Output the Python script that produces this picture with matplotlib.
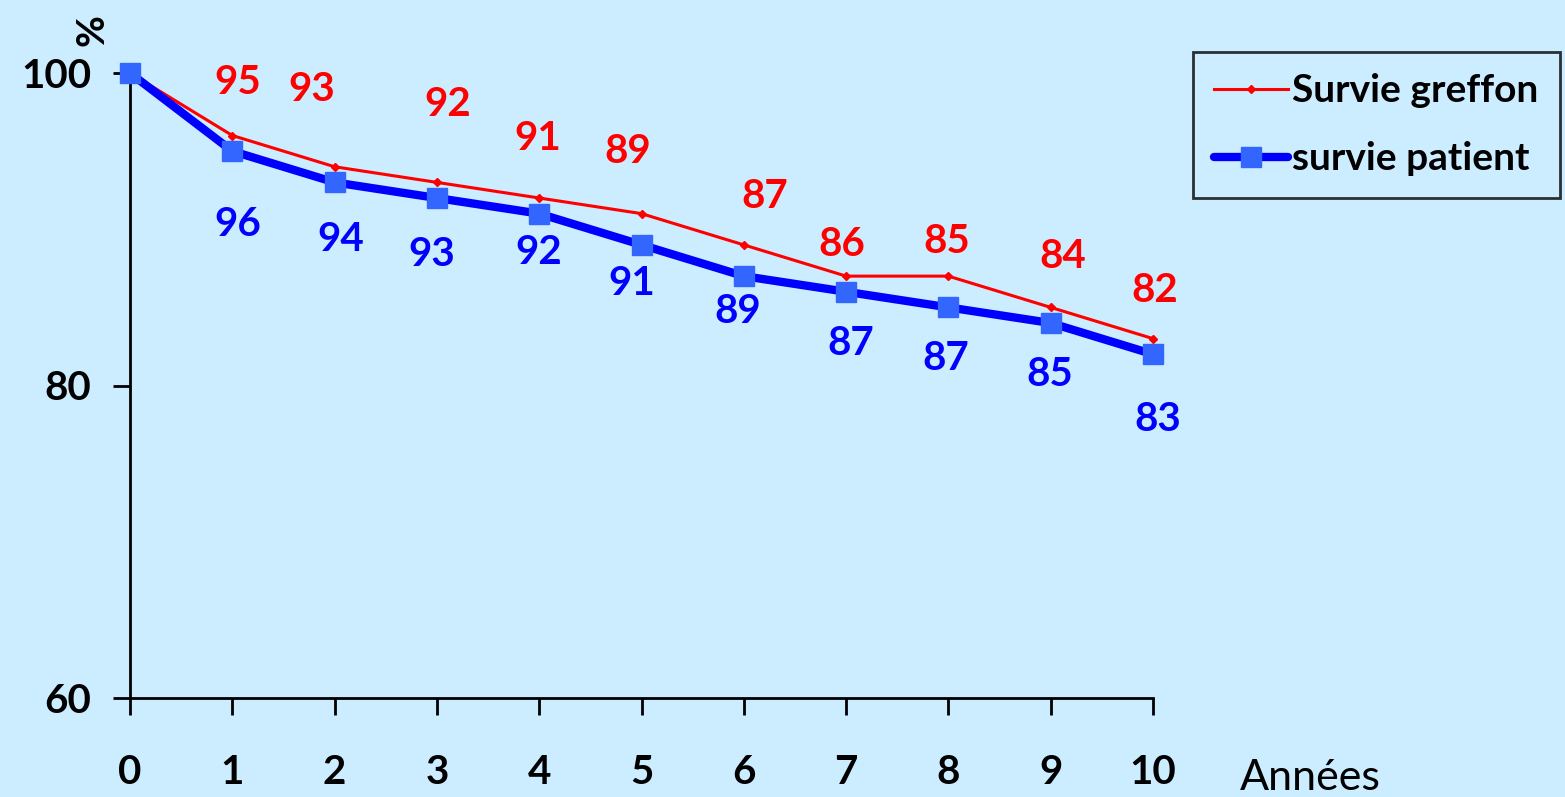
import matplotlib.pyplot as plt

# Données
annees = [0, 1, 2, 3, 4, 5, 6, 7, 8, 9, 10]
survie_greffon = [100, 96, 94, 93, 92, 91, 89, 87, 87, 85, 83]
survie_patient = [100, 95, 93, 92, 91, 89, 87, 86, 85, 84, 82]

# Étiquettes affichées (telles que sur l'original)
etiq_rouges = ['95', '93', '92', '91', '89', '87', '86', '85', '84', '82']
etiq_bleues = ['96', '94', '93', '92', '91', '89', '87', '87', '85', '83']

# décalages des étiquettes (pixels) par rapport aux points
dec_rouges = [(5, 53), (-23, 77), (11, 78), (-1, 60), (-14, 62), (21, 48), (-4, 32), (-2, 35), (12, 51), (2, 48)]
dec_bleues = [(6, -73), (6, -57), (-5, -57), (0, -39), (-10, -39), (-6, -35), (5, -52), (-3, -51), (-1, -51), (5, -65)]

fond = '#CCECFF'
plt.rcParams['font.family'] = ['Lato', 'DejaVu Sans']

fig = plt.figure(figsize=(15.65, 7.97), dpi=100, facecolor=fond)
ax = fig.add_axes([130 / 1565, 1 - 698 / 797, (1153 - 130) / 1565, (698 - 73) / 797])
ax.set_facecolor(fond)

ax.plot(annees, survie_greffon, color='#FF0000', linewidth=2.2, marker='D', markersize=4,
        label='Survie greffon', zorder=3, clip_on=False)
ax.plot(annees, survie_patient, color='#0000FF', linewidth=6, marker='s', markersize=15,
        markerfacecolor='#3366FF', markeredgecolor='#3366FF', label='survie patient', zorder=4,
        solid_capstyle='round', clip_on=False)

for i in range(1, len(annees)):
    ax.annotate(etiq_rouges[i - 1], (annees[i], survie_greffon[i]), xytext=dec_rouges[i - 1],
                textcoords='offset pixels', ha='center', va='center', color='#FF0000',
                fontsize=29, fontweight='bold')
    ax.annotate(etiq_bleues[i - 1], (annees[i], survie_patient[i]), xytext=dec_bleues[i - 1],
                textcoords='offset pixels', ha='center', va='center', color='#0000FF',
                fontsize=29, fontweight='bold')

ax.set_xlim(0, 10)
ax.set_ylim(60, 100)
ax.set_xticks(annees)
ax.set_yticks([60, 80, 100])
ax.spines['top'].set_visible(False)
ax.spines['right'].set_visible(False)
ax.spines['left'].set_linewidth(2)
ax.spines['bottom'].set_linewidth(2)
ax.tick_params(axis='both', direction='out', length=12, width=2, labelsize=29)
ax.tick_params(axis='x', pad=28)
ax.tick_params(axis='y', pad=16)
for t in ax.get_xticklabels() + ax.get_yticklabels():
    t.set_fontweight('bold')

fig.text(1240 / 1565, 1 - 778 / 797, 'Années', fontsize=31, ha='left', va='center')
fig.text(92 / 1565, 1 - 30 / 797, '%', fontsize=28, fontweight='bold', rotation=90,
         ha='center', va='center')

leg = fig.legend(loc='upper left', bbox_to_anchor=(1193 / 1565, 1 - 52 / 797),
                 frameon=True, prop={'weight': 'bold', 'size': 28},
                 handlelength=1.9, handletextpad=0.1, labelspacing=0.85, borderpad=0.55,
                 borderaxespad=0)
leg.get_frame().set_facecolor(fond)
leg.get_frame().set_edgecolor('black')
leg.get_frame().set_linewidth(2)
leg.get_frame().set_boxstyle('square', pad=0)

fig.savefig('out.png', dpi=100, facecolor=fond)
